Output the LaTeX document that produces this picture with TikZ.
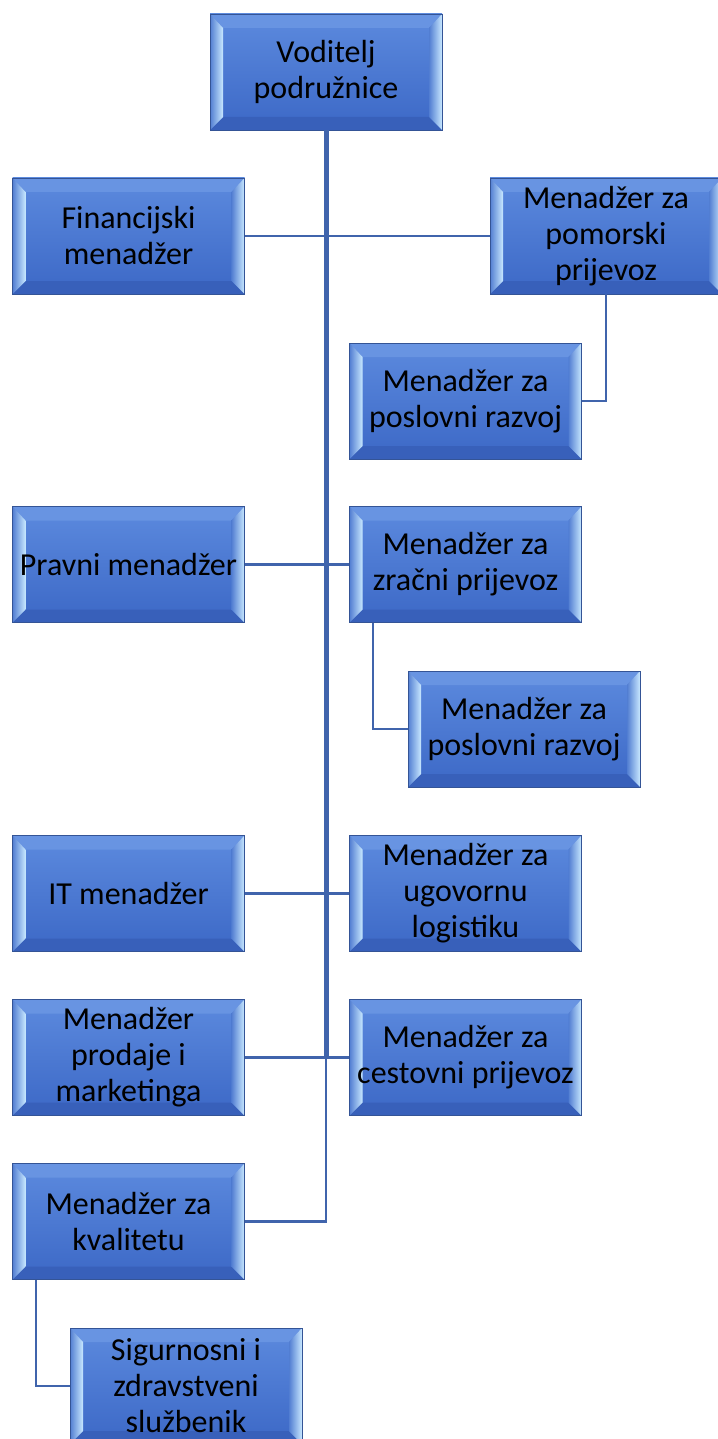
\documentclass[tikz,border=0pt]{standalone}
\usepackage{fontspec}
\setmainfont{Carlito}
\usetikzlibrary{calc}
\definecolor{facetop}{RGB}{92,138,222}
\definecolor{facebot}{RGB}{60,104,198}
\definecolor{bevtop}{RGB}{104,148,226}
\definecolor{bevbot}{RGB}{56,96,186}
\definecolor{bevlight}{RGB}{200,232,255}
\definecolor{bevmid}{RGB}{82,126,210}
\definecolor{boxedge}{RGB}{52,84,150}
\definecolor{linkblue}{RGB}{64,100,172}
\tikzset{
  orgbox/.style={draw=boxedge, line width=.8pt, minimum width=232pt, minimum height=116pt,
    inner sep=0pt, align=center, font=\fontsize{32}{36}\selectfont,
    top color=facetop, bottom color=facebot,
    path picture={
      \coordinate (nw) at (path picture bounding box.north west);
      \coordinate (ne) at (path picture bounding box.north east);
      \coordinate (sw) at (path picture bounding box.south west);
      \coordinate (se) at (path picture bounding box.south east);
      \fill[bevtop] (nw)--(ne)--($(ne)+(-13pt,-14pt)$)--($(nw)+(13pt,-14pt)$)--cycle;
      \fill[bevbot] (sw)--(se)--($(se)+(-13pt,13pt)$)--($(sw)+(13pt,13pt)$)--cycle;
      \shade[left color=bevmid, right color=bevlight] (nw)--($(nw)+(13pt,-14pt)$)--($(sw)+(13pt,13pt)$)--(sw)--cycle;
      \shade[left color=bevmid, right color=bevlight] (ne)--($(ne)+(-13pt,-14pt)$)--($(se)+(-13pt,13pt)$)--(se)--cycle;
    }},
  link/.style={draw=linkblue, line width=2.5pt},
  trunk/.style={draw=linkblue, line width=5pt}
}
\begin{document}
\begin{tikzpicture}[x=1pt, y=-1pt]
\useasboundingbox (0,0) rectangle (717,1439);
% boxes
\node[orgbox] (voditelj) at (326,72) {Voditelj\\podružnice};
\foreach \y/\name/\txt in {236/financijski/{Financijski\\menadžer},
                           564.5/pravni/{Pravni menadžer},
                           893.5/it/{IT menadžer},
                           1057.5/prodaja/{Menadžer\\prodaje i\\marketinga},
                           1221.5/kvaliteta/{Menadžer za\\kvalitetu}}
{
	\node[orgbox] (\name) at (128.5,\y) {\txt};
}
\foreach \y/\name/\txt in {564.5/zracni/{Menadžer za\\zračni prijevoz},
                           893.5/ugovorna/{Menadžer za\\ugovornu\\logistiku},
                           1057.5/cestovni/{Menadžer za\\cestovni prijevoz}}
{
	\node[orgbox] (\name) at (465.5,\y) {\txt};
}
\node[orgbox] (pomorski) at (606,236) {Menadžer za\\pomorski\\prijevoz};
\node[orgbox] (razvojA) at (465.5,401) {Menadžer za\\poslovni razvoj};
\node[orgbox] (razvojB) at (524,729) {Menadžer za\\poslovni razvoj};
\node[orgbox] (sigurnosni) at (186,1386) {Sigurnosni i\\zdravstveni\\službenik};
% connectors
\draw[link] (financijski.east) -- (pomorski.west);
\draw[link] (pravni.east) -- (zracni.west);
\draw[link] (it.east) -- (ugovorna.west);
\draw[link] (prodaja.east) -- (cestovni.west);
\draw[link] (voditelj.south |- prodaja.east) |- (kvaliteta.east);
\draw[trunk] (voditelj.south) -- (voditelj.south |- prodaja.east);
\draw[link] (pomorski.south) |- (razvojA.east);
\draw[link] ([xshift=24pt]zracni.south west) |- (razvojB.west);
\draw[link] ([xshift=24pt]kvaliteta.south west) |- (sigurnosni.west);
\end{tikzpicture}
\end{document}
